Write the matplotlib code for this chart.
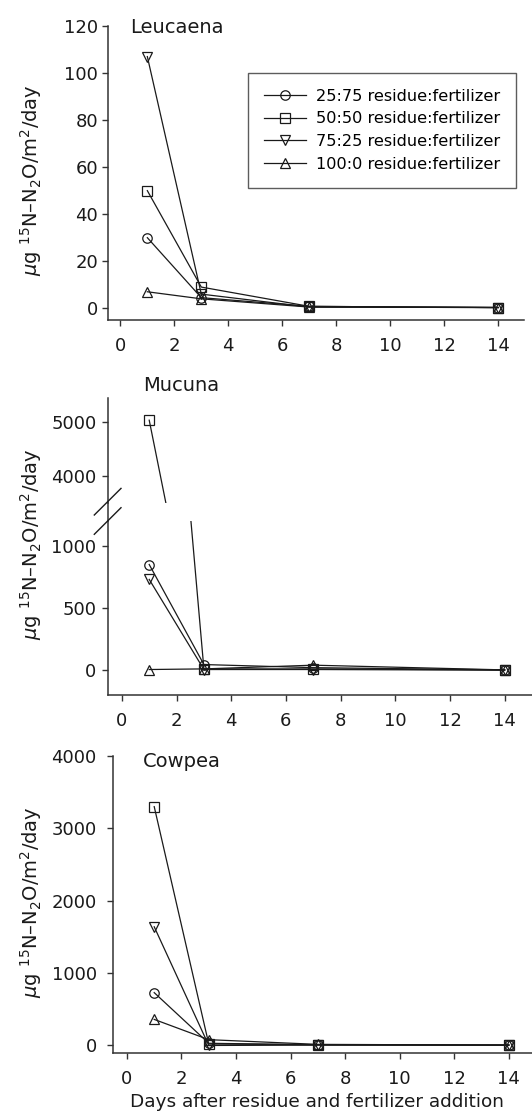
import numpy as np
import matplotlib.pyplot as plt
from matplotlib.lines import Line2D

plt.rcParams['font.family'] = ['DejaVu Sans']
plt.rcParams['mathtext.fontset'] = 'dejavusans'

# ---- data ----
days = [1, 3, 7, 14]
treatments = ['25:75 residue:fertilizer', '50:50 residue:fertilizer',
              '75:25 residue:fertilizer', '100:0 residue:fertilizer']
markers = ['o', 's', 'v', '^']

# rows follow the order of treatments
leucaena = [[30, 4.5, 0.8, 0.3],
            [50, 9, 0.8, 0.3],
            [107, 6, 0.5, 0.3],
            [7, 4, 0.5, 0.3]]
mucuna = [[850, 45, 20, 2],
          [5030, 10, 10, 2],
          [730, 5, 5, 0],
          [5, 10, 40, 2]]
cowpea = [[730, 30, 10, 5],
          [3300, 20, 10, 5],
          [1640, 0, 5, 5],
          [360, 80, 15, 5]]

xticks = [0, 2, 4, 6, 8, 10, 12, 14]
ylabel = r'$\mu$g $^{15}$N–N$_2$O/m$^2$/day'

W, H = 532.0, 1115.0
INK = '#1a1a1a'
SPINE = '#333333'


def box(l, t, r, b):
    """pixel box (left, top, right, bottom) -> figure fraction rect"""
    return [l / W, 1 - b / H, (r - l) / W, (b - t) / H]


def style(ax, ypad, show_x=True):
    for s in ['top', 'right']:
        ax.spines[s].set_visible(False)
    for s in ['left', 'bottom']:
        ax.spines[s].set_color(SPINE)
        ax.spines[s].set_linewidth(1.1)
    ax.tick_params(axis='y', direction='out', length=4, width=1.0,
                   color=SPINE, labelsize=13, pad=ypad, labelcolor=INK)
    ax.tick_params(axis='x', direction='out', length=4, width=1.0,
                   color=SPINE, labelsize=13, pad=8.5, labelcolor=INK)
    if not show_x:
        ax.spines['bottom'].set_visible(False)
        ax.tick_params(axis='x', length=0, labelbottom=False)


def draw(ax, data):
    handles = []
    for vals, m, lab in zip(data, markers, treatments):
        h, = ax.plot(days, vals, color=INK, lw=0.9, marker=m, ms=6.8,
                     mfc='none', mec=INK, mew=0.9, label=lab)
        handles.append(h)
    return handles


def main():
    fig = plt.figure(figsize=(W / 100, H / 100), dpi=100)

    # ---- Leucaena ----
    ax1 = fig.add_axes(box(108.2, 26, 523.8, 320))
    hs = draw(ax1, leucaena)
    ax1.set_xlim(-0.45, 14.95)
    ax1.set_ylim(-5, 120)
    ax1.set_yticks(np.arange(0, 121, 20))
    ax1.set_xticks(xticks)
    style(ax1, 3.3)
    leg = fig.legend(handles=hs, loc='upper left',
                     bbox_to_anchor=(248.3 / W, 1 - 72.7 / H),
                     fontsize=11.6, frameon=True, fancybox=False,
                     edgecolor=SPINE, handlelength=2.6, handletextpad=0.58,
                     labelspacing=0.47, borderpad=1.0, borderaxespad=0)
    leg.get_frame().set_linewidth(1.0)
    fig.text(130.3 / W, 1 - 32.7 / H, 'Leucaena', fontsize=14, color=INK,
             va='baseline')

    # ---- Mucuna (broken axis) ----
    ax2u = fig.add_axes(box(108.2, 398, 532, 503))
    ax2l = fig.add_axes(box(108.2, 521, 532, 695))
    draw(ax2u, mucuna)
    draw(ax2l, mucuna)
    for a in (ax2u, ax2l):
        a.set_xlim(-0.5, 15.0)
        a.set_xticks(xticks)
    ax2u.set_ylim(3500, 5440)
    ax2u.set_yticks([4000, 5000])
    ax2l.set_ylim(-200, 1200)
    ax2l.set_yticks([0, 500, 1000])
    style(ax2u, 4.5, show_x=False)
    style(ax2l, 4.5)
    # axis line through the gap and the two break slashes
    fig.add_artist(Line2D([108.2 / W, 108.2 / W], [1 - 503 / H, 1 - 521 / H],
                          color=SPINE, lw=1.1))
    for yc in (501.7, 521.0):
        fig.add_artist(Line2D([94.3 / W, 121.0 / W],
                              [1 - (yc + 13.3) / H, 1 - (yc - 13.3) / H],
                              color=INK, lw=1.0))
    fig.text(142.9 / W, 1 - 390.7 / H, 'Mucuna', fontsize=14, color=INK,
             va='baseline')

    # ---- Cowpea ----
    ax3 = fig.add_axes(box(113.3, 756, 532, 1052.7))
    draw(ax3, cowpea)
    ax3.set_xlim(-0.5, 14.85)
    ax3.set_ylim(-100, 4000)
    ax3.set_yticks(np.arange(0, 4001, 1000))
    ax3.set_xticks(xticks)
    style(ax3, 8.0)
    fig.text(142.9 / W, 1 - 767.3 / H, 'Cowpea', fontsize=14, color=INK,
             va='baseline')

    # ---- shared labels ----
    for yc in (180, 544, 902):
        fig.text(30.6 / W, 1 - yc / H, ylabel, fontsize=14, color=INK,
                 rotation=90, ha='center', va='center')
    fig.text(317 / W, 1 - 1107 / H, 'Days after residue and fertilizer addition',
             fontsize=13.3, color=INK, ha='center', va='baseline')

    fig.savefig('out.png', dpi=100)


if (__name__ == "__main__"):
    main()
